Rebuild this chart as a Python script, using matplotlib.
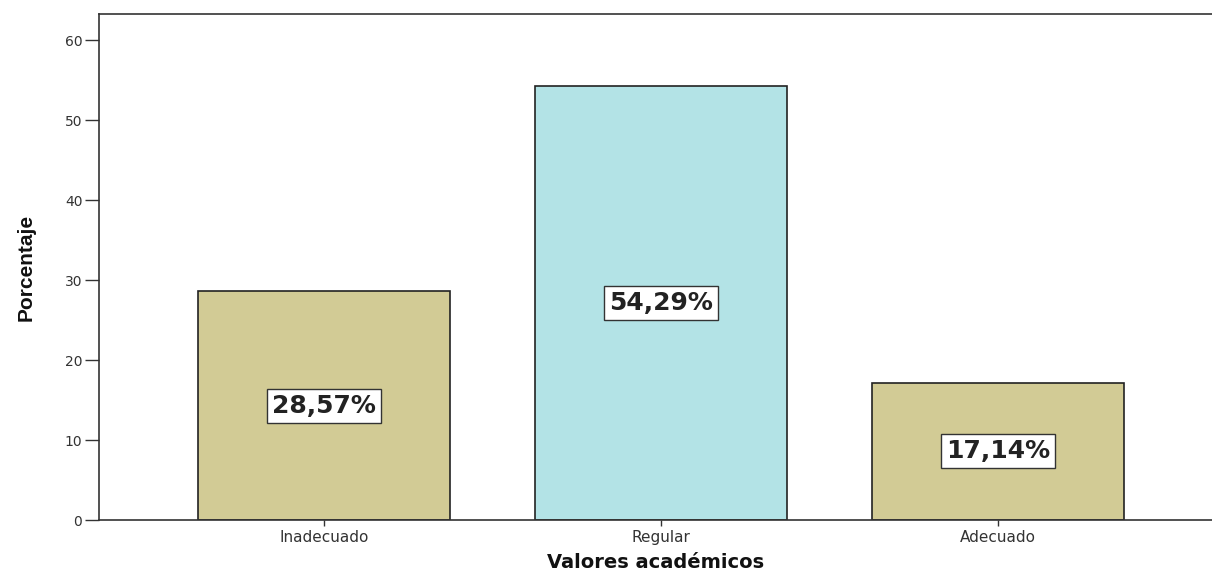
import matplotlib.pyplot as plt
from matplotlib import font_manager

# Data
categorias = ["Inadecuado", "Regular", "Adecuado"]
porcentajes = [28.57, 54.29, 17.14]
etiquetas = ["28,57%", "54,29%", "17,14%"]
colores = ["#D2CB95", "#B3E3E6", "#D2CB95"]
yticks = [0, 10, 20, 30, 40, 50, 60]

plt.rcParams['font.family'] = ['DejaVu Sans']

# narrow bold face for the y label, if present
nombres = {f.name for f in font_manager.fontManager.ttflist}
fam_y = ['Liberation Sans Narrow'] if 'Liberation Sans Narrow' in nombres else ['Liberation Sans']
tam_y = 19 if 'Liberation Sans Narrow' in nombres else 15

fig = plt.figure(figsize=(12.12, 5.71), dpi=100)
ax = fig.add_axes([99 / 1212, 51 / 571, 1 - 99 / 1212, 506 / 571])

x = range(len(categorias))
ax.bar(x, porcentajes, width=0.748, color=colores,
       edgecolor="#222222", linewidth=1.2)

# Value labels in boxes, centred on bar half-height
for xi, val, lab in zip(x, porcentajes, etiquetas):
    ax.text(xi, val / 2, lab, ha="center", va="center", fontsize=18,
            fontweight="bold", color="#222222",
            bbox=dict(boxstyle="square,pad=0.2", facecolor="white",
                      edgecolor="#333333", linewidth=1))

ax.set_xlim(-0.668, 2.635)
ax.set_ylim(0, 63.25)
ax.set_xticks(list(x))
ax.set_xticklabels(categorias, fontsize=11, color="#333333")
ax.set_yticks(yticks)
ax.set_yticklabels([str(t) for t in yticks], fontsize=10, color="#333333")
ax.tick_params(axis="y", length=10, width=1, color="#333333", pad=2)
ax.tick_params(axis="x", length=4, width=1, color="#333333", pad=3)

for s in ["left", "bottom", "top"]:
    ax.spines[s].set_color("#333333")
    ax.spines[s].set_linewidth(1.2)
ax.spines["right"].set_visible(False)

ax.set_ylabel("Porcentaje", fontsize=tam_y, fontweight="bold", labelpad=21,
              family=fam_y, color="#111111")
ax.set_xlabel("Valores académicos", fontsize=14, fontweight="bold",
              labelpad=6, color="#111111")

fig.savefig("out.png", dpi=100)
